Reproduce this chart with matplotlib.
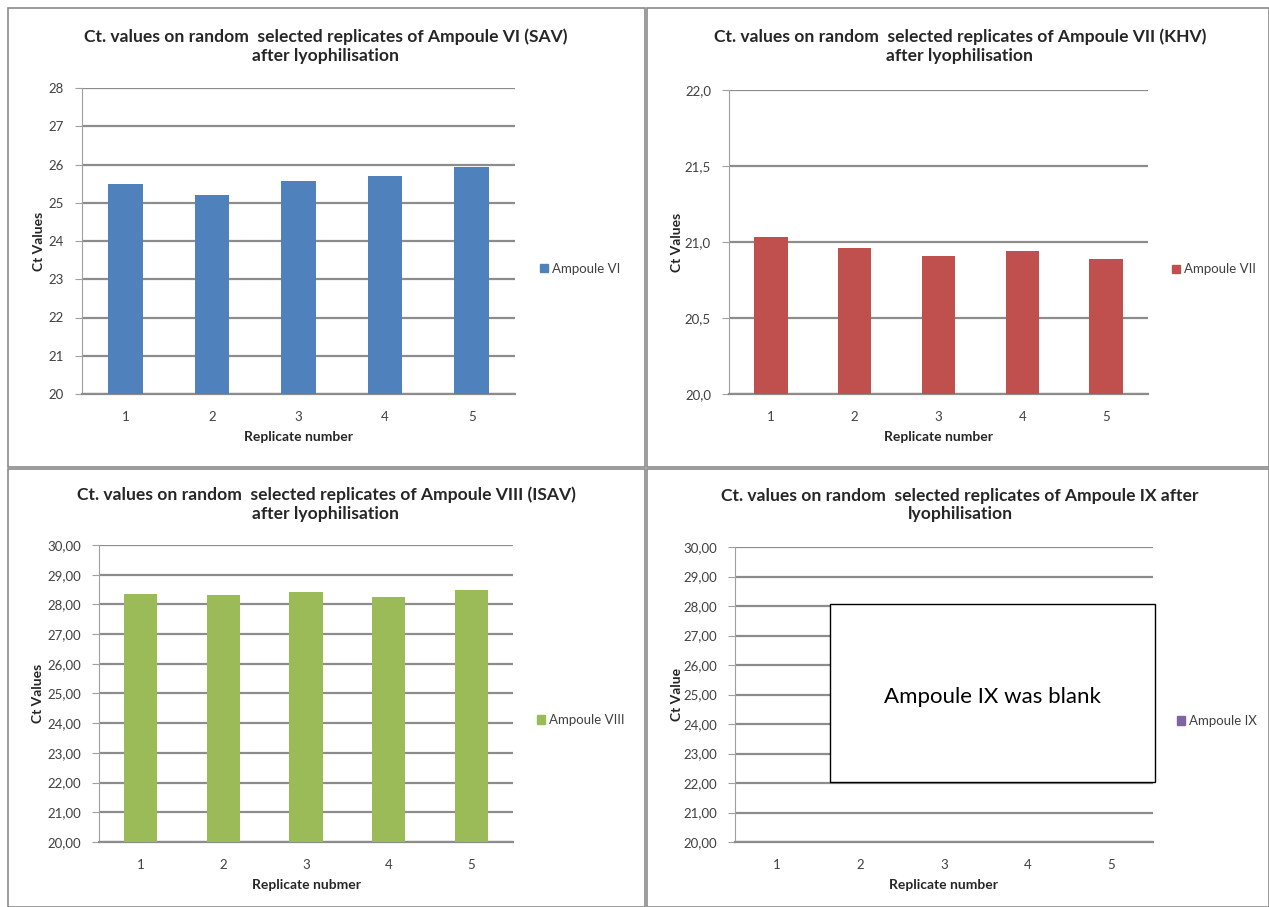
import matplotlib
matplotlib.use('Agg')
import matplotlib.pyplot as plt
from matplotlib.patches import Rectangle, Patch
from matplotlib.ticker import FuncFormatter, MultipleLocator
import numpy as np

plt.rcParams['font.family'] = ['Lato', 'DejaVu Sans']

# 데이터
replicates = [1, 2, 3, 4, 5]
vi_values = [25.50, 25.21, 25.58, 25.70, 25.93]
vii_values = [21.03, 20.96, 20.91, 20.94, 20.89]
viii_values = [28.35, 28.30, 28.43, 28.25, 28.50]
ix_values = []  # 앰플 IX 는 비어 있음

W, H = 1269, 907
fig = plt.figure(figsize=(W / 100, H / 100), dpi=100)

GRID = '#8c8c8c'
TXT = '#404040'


def px_box(x0, y0, x1, y1):
    # 픽셀 좌표 -> figure 좌표
    return [x0 / W, 1 - y1 / H, (x1 - x0) / W, (y1 - y0) / H]


def comma_fmt(decimals):
    return FuncFormatter(lambda v, p: (('%.' + str(decimals) + 'f') % v).replace('.', ','))


def draw_panel(rect, values, color, ylim, step, decimals, title, title_xy, ylabel, ylabel_x, xlabel, legend):
    ax = fig.add_axes(px_box(*rect))
    x = np.array(replicates[:len(values)])
    if len(values):
        ax.bar(x, values, width=0.4, color=color, zorder=3)
    ax.set_xlim(0.5, 5.5)
    ax.set_ylim(*ylim)
    ax.yaxis.set_major_locator(MultipleLocator(step))
    ax.yaxis.set_major_formatter(comma_fmt(decimals))
    ax.set_xticks(replicates)
    ax.grid(axis='y', color=GRID, lw=1.6, zorder=0)
    for s in ['top', 'right']:
        ax.spines[s].set_visible(False)
    ax.spines['left'].set_color('#a0a0a0')
    ax.spines['bottom'].set_color(GRID)
    ax.spines['bottom'].set_linewidth(1.6)
    ax.tick_params(axis='y', length=5, color='#a0a0a0', labelsize=9.5, labelcolor=TXT, pad=8)
    ax.tick_params(axis='x', length=0, labelsize=9.5, labelcolor=TXT, pad=12)
    fig.text(title_xy[0] / W, 1 - title_xy[1] / H, title, ha='center', va='center',
             fontsize=12.6, fontweight='bold', color='#262626')
    ax.set_ylabel(ylabel, fontsize=10, fontweight='bold', color='#262626', va='center')
    ax.yaxis.set_label_coords((ylabel_x - rect[0]) / (rect[2] - rect[0]), 0.5)
    ax.set_xlabel(xlabel, fontsize=10, fontweight='bold', color='#262626', labelpad=6)
    ax.legend(handles=[Patch(color=color, label=legend)], loc='center left',
              bbox_to_anchor=(1.03, 0.41), frameon=False, fontsize=9.5,
              handlelength=0.6, handleheight=0.6, handletextpad=0.3, labelcolor=TXT)
    return ax


draw_panel((82, 88, 515, 394), vi_values, '#4F81BD', (20, 28), 1, 0,
           'Ct. values on random  selected replicates of Ampoule VI (SAV)\nafter lyophilisation', (326, 46),
           'Ct Values', 39, 'Replicate number', 'Ampoule VI')
draw_panel((729, 90, 1148, 394), vii_values, '#C0504D', (20, 22), 0.5, 1,
           'Ct. values on random  selected replicates of Ampoule VII (KHV)\nafter lyophilisation', (960, 46),
           'Ct Values', 677, 'Replicate number', 'Ampoule VII')
draw_panel((99, 545, 513, 842), viii_values, '#9BBB59', (20, 30), 1, 2,
           'Ct. values on random  selected replicates of Ampoule VIII (ISAV)\nafter lyophilisation', (326, 504),
           'Ct Values', 38, 'Replicate nubmer', 'Ampoule VIII')
draw_panel((735, 547, 1153, 842), ix_values, '#8064A2', (20, 30), 1, 2,
           'Ct. values on random  selected replicates of Ampoule IX after\nlyophilisation', (960, 505),
           'Ct Value', 677, 'Replicate number', 'Ampoule IX')

# 앰플 IX 안내 상자
fig.add_artist(Rectangle((830 / W, 1 - 782 / H), 325 / W, 178 / H, transform=fig.transFigure,
                         facecolor='white', edgecolor='black', lw=1, zorder=10))
fig.text(992 / W, 1 - 697 / H, 'Ampoule IX was blank', ha='center', va='center',
         fontsize=16, color='black', zorder=11)

# 패널 테두리
for (x0, y0, x1, y1) in [(8, 8, 645, 467), (647, 8, 1269, 467), (8, 469, 645, 907), (647, 469, 1269, 907)]:
    fig.add_artist(Rectangle((x0 / W, 1 - y1 / H), (x1 - x0) / W, (y1 - y0) / H,
                             transform=fig.transFigure, fill=False, edgecolor='#8a8a8a', lw=1.2))

plt.savefig('out.png', dpi=100)
